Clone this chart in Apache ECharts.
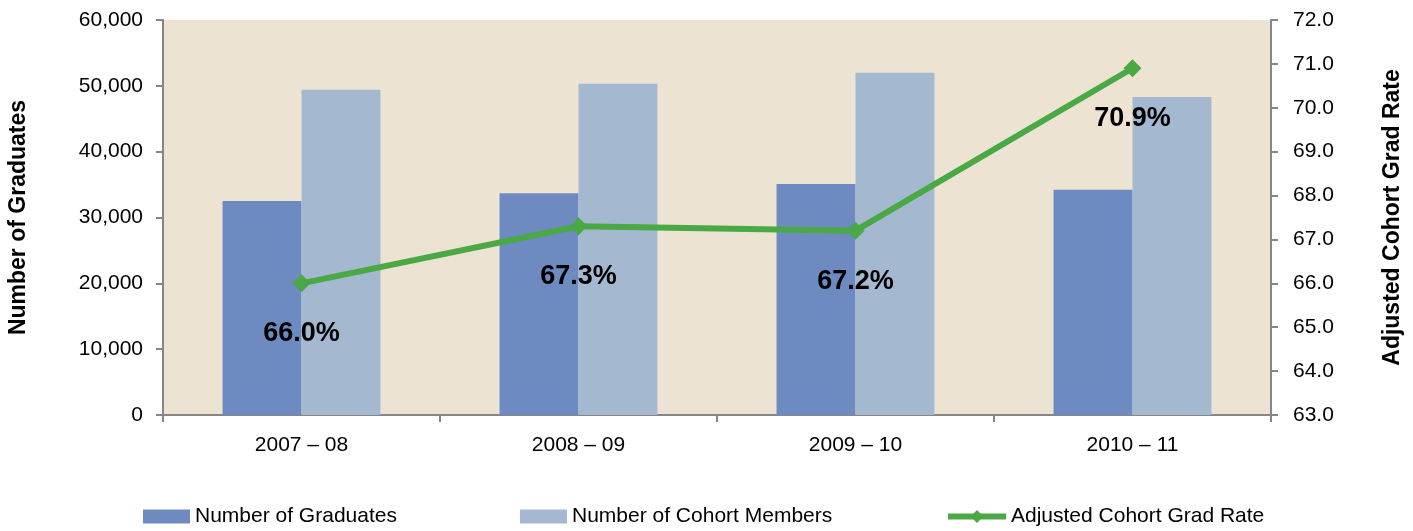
<!DOCTYPE html>
<html>
<head>
<meta charset="utf-8">
<script src="https://cdn.jsdelivr.net/npm/echarts@6/dist/echarts.min.js"></script>
<style>
  html, body { margin: 0; padding: 0; background: #ffffff; }
  #chart { width: 1413px; height: 531px; }
</style>
</head>
<body>
<div id="chart"></div>
<script>
// data
const years = ['2007 – 08', '2008 – 09', '2009 – 10', '2010 – 11']
const graduates = [32500, 33700, 35100, 34200]
const cohortMembers = [49400, 50300, 52000, 48300]
const gradRate = [66.0, 67.3, 67.2, 70.9]

const font = 'Liberation Sans, Arial, sans-serif'
const axisGrey = '#868686'
const green = '#4aa845'

const chart = echarts.init(document.getElementById('chart'))

const legendText = { color: '#000', fontSize: 21, fontFamily: font }
const titleText = { color: '#000', fontSize: 23, fontWeight: 'bold', fontFamily: font }

const option = {
  animation: false,
  grid: {
    left: 163, right: 142, top: 20, bottom: 116,
    outerBoundsMode: 'none',
    show: true,
    backgroundColor: '#ede3d3',
    borderWidth: 0
  },
  legend: [
    {
      data: ['Number of Graduates'],
      left: 143, top: 506, padding: 0,
      itemWidth: 47, itemHeight: 14,
      icon: 'rect',
      textStyle: legendText
    },
    {
      data: ['Number of Cohort Members'],
      left: 520, top: 506, padding: 0,
      itemWidth: 47, itemHeight: 14,
      icon: 'rect',
      textStyle: legendText
    },
    {
      data: ['Adjusted Cohort Grad Rate'],
      left: 945, top: 506, padding: 0,
      itemWidth: 58, itemHeight: 16,
      lineStyle: { width: 6 },
      textStyle: legendText
    }
  ],
  xAxis: {
    type: 'category',
    data: years,
    axisLine: { lineStyle: { color: axisGrey, width: 2 } },
    axisTick: { show: true, length: 7, lineStyle: { color: axisGrey, width: 2 } },
    axisLabel: { color: '#000', fontSize: 21, fontFamily: font, margin: 20 }
  },
  yAxis: [
    {
      type: 'value',
      min: 0, max: 60000, interval: 10000,
      name: 'Number of Graduates',
      nameLocation: 'middle',
      nameGap: 133,
      nameRotate: 90,
      nameTextStyle: titleText,
      axisLine: { show: true, lineStyle: { color: axisGrey, width: 2 } },
      axisTick: { show: true, length: 7, lineStyle: { color: axisGrey, width: 2 } },
      splitLine: { show: false },
      axisLabel: {
        color: '#000', fontSize: 21, fontFamily: font, margin: 20,
        formatter: v => v.toLocaleString('en-US')
      }
    },
    {
      type: 'value',
      min: 63, max: 72, interval: 1,
      name: 'Adjusted Cohort Grad Rate',
      nameLocation: 'middle',
      nameGap: 110,
      nameRotate: 90,
      nameTextStyle: titleText,
      axisLine: { show: true, lineStyle: { color: axisGrey, width: 2 } },
      axisTick: { show: true, length: 7, lineStyle: { color: axisGrey, width: 2 } },
      splitLine: { show: false },
      axisLabel: {
        color: '#000', fontSize: 21, fontFamily: font, margin: 22,
        formatter: v => v.toFixed(1)
      }
    }
  ],
  series: [
    {
      name: 'Number of Graduates',
      type: 'bar',
      data: graduates,
      barGap: '0%',
      barCategoryGap: '43%',
      itemStyle: { color: '#6d8bc0' }
    },
    {
      name: 'Number of Cohort Members',
      type: 'bar',
      data: cohortMembers,
      itemStyle: { color: '#a4b9cf' }
    },
    {
      name: 'Adjusted Cohort Grad Rate',
      type: 'line',
      yAxisIndex: 1,
      data: gradRate,
      symbol: 'diamond',
      symbolSize: 18,
      lineStyle: { color: green, width: 6 },
      itemStyle: { color: green },
      label: {
        show: true,
        position: 'bottom',
        distance: 28,
        color: '#000',
        fontSize: 27,
        fontWeight: 'bold',
        fontFamily: font,
        formatter: p => p.value.toFixed(1) + '%'
      },
      z: 5
    }
  ]
}

chart.setOption(option)
</script>
</body>
</html>
